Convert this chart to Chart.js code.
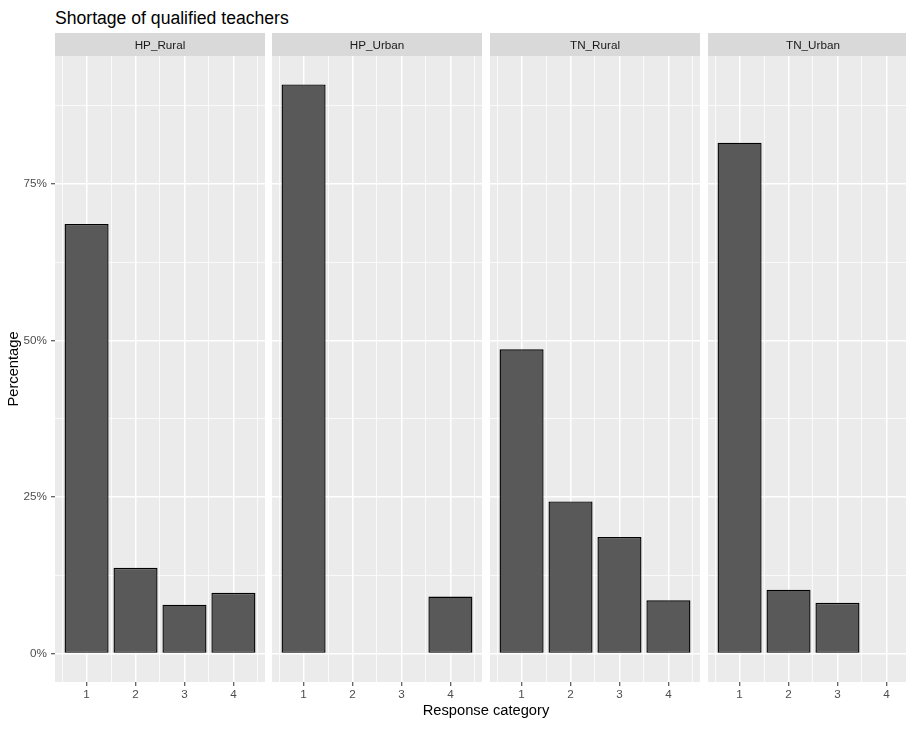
<!DOCTYPE html>
<html>
<head>
<meta charset="utf-8">
<script src="https://cdn.jsdelivr.net/npm/chart.js@4.4.1/dist/chart.umd.min.js"></script>
<style>
  html, body { margin: 0; padding: 0; background: #fff; }
  body { width: 906px; height: 729px; overflow: hidden; position: relative;
         font-family: "Liberation Sans", Arial, sans-serif; }
  #title { position: absolute; left: 55px; top: 8px; font-size: 17.6px; line-height: 20px;
           color: #000; white-space: nowrap; }
  #xTitle { position: absolute; left: 286px; width: 400px; top: 702px; text-align: center;
            font-size: 14.7px; line-height: 17px; color: #000; }
  canvas { position: absolute; top: 33px; }
</style>
</head>
<body>
<div id="title">Shortage of qualified teachers</div>
<canvas id="p0" width="265" height="696" style="left:0px"></canvas>
<canvas id="p1" width="210" height="696" style="left:272px"></canvas>
<canvas id="p2" width="210" height="696" style="left:490px"></canvas>
<canvas id="p3" width="210" height="696" style="left:708px"></canvas>
<div id="xTitle">Response category</div>

<script>
// data (percent of responses)
const categories = [1, 2, 3, 4];
const panels = ["HP_Rural", "HP_Urban", "TN_Rural", "TN_Urban"];
const hpRural = [68.6, 13.7, 7.8, 9.7];
const hpUrban = [90.9, null, null, 9.1];
const tnRural = [48.6, 24.3, 18.6, 8.5];
const tnUrban = [81.6, 10.2, 8.1, null];
const yTicks = [0, 25, 50, 75];
const yMinor = [12.5, 37.5, 62.5, 87.5];
const xMinor = [0.5, 1.5, 2.5, 3.5, 4.5];

const allSeries = [hpRural, hpUrban, tnRural, tnUrban];
const FONT = '"Liberation Sans", Arial, sans-serif';

// ggplot style limits: 5% expansion around the data range
const yMax = Math.max(...allSeries.flat().filter(v => v !== null));
const yPad = yMax * 0.05;
const xLo = categories[0] - 0.45, xHi = categories[categories.length - 1] + 0.45;
const xPad = (xHi - xLo) * 0.05;

// strip header + grey panel background
const stripPlugin = {
    id: "strip",
    beforeDraw(chart, args, opts) {
        const { ctx, chartArea: a } = chart;
        ctx.save();
        ctx.fillStyle = "#D9D9D9";
        ctx.fillRect(a.left, a.top - 23, a.right - a.left, 23);
        ctx.fillStyle = "#EBEBEB";
        ctx.fillRect(a.left, a.top, a.right - a.left, a.bottom - a.top);
        ctx.fillStyle = "#1A1A1A";
        ctx.font = "11.7px " + FONT;
        ctx.textAlign = "center";
        ctx.textBaseline = "middle";
        ctx.fillText(opts.text, (a.left + a.right) / 2, a.top - 10.5);
        ctx.restore();
    }
};

function makePanel(i) {
    const first = i === 0;
    const values = allSeries[i];
    const points = categories
        .map((c, k) => ({ x: c, y: values[k] }))
        .filter(p => p.y !== null);

    new Chart(document.getElementById("p" + i), {
        type: "bar",
        data: {
            datasets: [{
                data: points,
                backgroundColor: "#595959",
                borderColor: "#000000",
                borderWidth: 1.4,
                borderSkipped: false,
                barPercentage: 0.9,
                categoryPercentage: 1
            }]
        },
        options: {
            responsive: false,
            animation: false,
            layout: { padding: { top: 23, left: 0, right: 0, bottom: 0 } },
            plugins: {
                legend: { display: false },
                tooltip: { enabled: false },
                strip: { text: panels[i] }
            },
            scales: {
                x: {
                    type: "linear",
                    min: xLo - xPad,
                    max: xHi + xPad,
                    offset: false,
                    border: { display: false },
                    grid: {
                        offset: false,
                        color: "#FFFFFF",
                        lineWidth: 1.5,
                        tickColor: "#333333",
                        tickWidth: 1,
                        tickLength: 4
                    },
                    ticks: {
                        color: "#4D4D4D",
                        font: { family: FONT, size: 11.7 },
                        padding: 2,
                        autoSkip: false,
                        maxRotation: 0
                    },
                    afterBuildTicks: ax => { ax.ticks = categories.map(v => ({ value: v })); },
                    afterFit: s => { s.height = 47; s.paddingLeft = 0; s.paddingRight = 0; }
                },
                xMinor: {
                    type: "linear",
                    axis: "x",
                    position: "bottom",
                    min: xLo - xPad,
                    max: xHi + xPad,
                    offset: false,
                    border: { display: false },
                    grid: { offset: false, color: "#FFFFFF", lineWidth: 0.75, drawTicks: false },
                    ticks: { display: false },
                    afterBuildTicks: ax => { ax.ticks = xMinor.map(v => ({ value: v })); },
                    afterFit: s => { s.height = 0; s.paddingLeft = 0; s.paddingRight = 0; }
                },
                y: {
                    min: -yPad,
                    max: yMax + yPad,
                    border: { display: false },
                    grid: {
                        color: "#FFFFFF",
                        lineWidth: c => (c.tick && yTicks.includes(c.tick.value)) ? 1.5 : 0.75,
                        drawTicks: first,
                        tickLength: 4,
                        tickWidth: 1,
                        tickColor: c => (c.tick && yTicks.includes(c.tick.value)) ? "#333333" : "rgba(0,0,0,0)"
                    },
                    ticks: {
                        display: first,
                        color: "#4D4D4D",
                        font: { family: FONT, size: 11.7 },
                        padding: 4,
                        callback: v => yTicks.includes(v) ? v + "%" : ""
                    },
                    title: {
                        display: first,
                        text: "Percentage",
                        color: "#000000",
                        font: { family: FONT, size: 14.7 },
                        padding: { top: 5, bottom: 0 }
                    },
                    afterBuildTicks: ax => {
                        ax.ticks = [...yTicks, ...yMinor].sort((a, b) => a - b).map(v => ({ value: v }));
                    },
                    afterFit: s => { s.width = first ? 55 : 0; s.paddingTop = 0; s.paddingBottom = 0; }
                }
            }
        },
        plugins: [stripPlugin]
    });
}

panels.forEach((p, i) => makePanel(i));
</script>
</body>
</html>
